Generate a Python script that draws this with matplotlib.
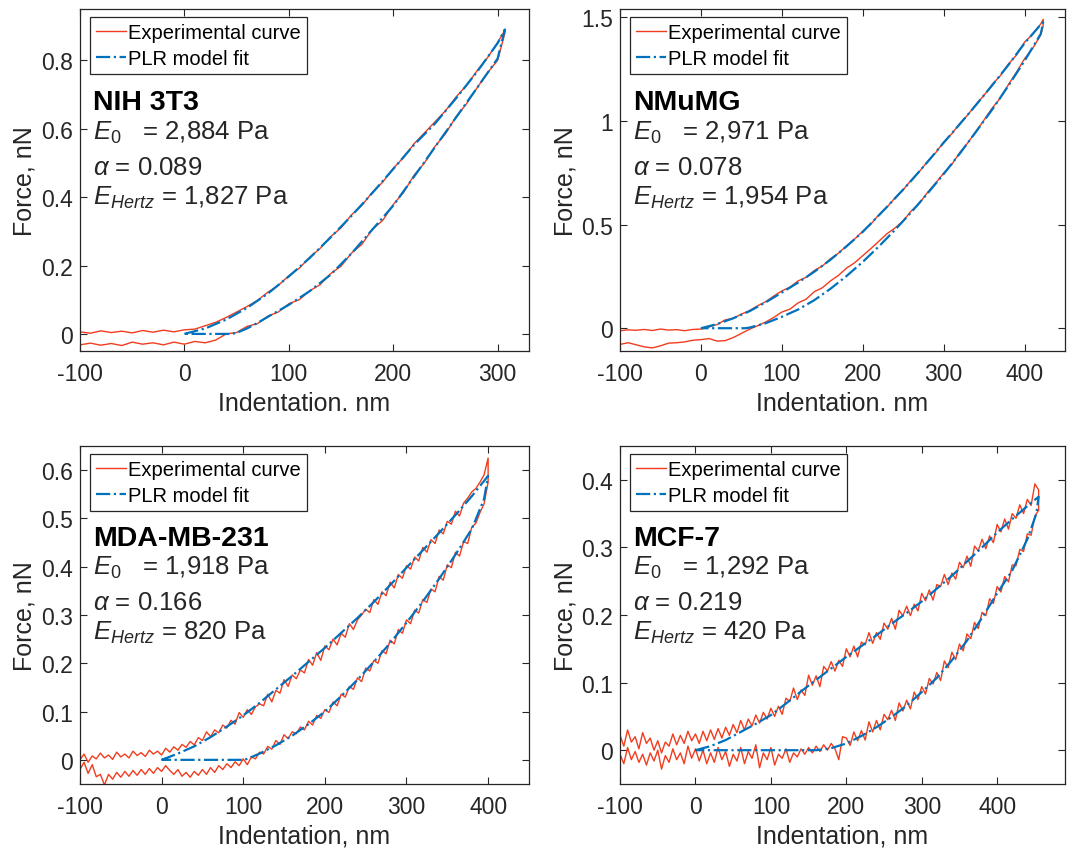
import numpy as np
import matplotlib.pyplot as plt
from matplotlib.ticker import FormatStrFormatter

plt.rcParams['font.family'] = ['Liberation Sans', 'DejaVu Sans']
plt.rcParams['mathtext.fontset'] = 'custom'
plt.rcParams['mathtext.rm'] = 'Liberation Sans'
plt.rcParams['mathtext.it'] = 'Liberation Sans:italic'
plt.rcParams['mathtext.bf'] = 'Liberation Sans:bold'
plt.rcParams['axes.unicode_minus'] = False

RED = '#F23C1E'
BLUE = '#0072BD'
DARK = '#262626'

# ---------------- NIH 3T3 ----------------
nih_exp_x = np.append(np.arange(-100, 301, 10), 307)
nih_exp_up = [0.006, 0.002, 0.009, 0.004, 0.008, 0.003, 0.010, 0.005, 0.011, 0.006,
              0.012, 0.014, 0.024, 0.034, 0.048, 0.064, 0.080, 0.098, 0.122, 0.142,
              0.170, 0.192, 0.224, 0.250, 0.284, 0.310, 0.348, 0.376, 0.414, 0.444,
              0.484, 0.516, 0.556, 0.588, 0.620, 0.652, 0.692, 0.726, 0.768, 0.806,
              0.852, 0.888]
nih_exp_dn = [-0.032, -0.027, -0.033, -0.028, -0.034, -0.024, -0.030, -0.026, -0.032, -0.024,
              -0.030, -0.022, -0.026, -0.018, 0.000, 0.004, 0.022, 0.030, 0.052, 0.064,
              0.088, 0.100, 0.126, 0.144, 0.176, 0.198, 0.236, 0.262, 0.306, 0.332,
              0.378, 0.414, 0.464, 0.500, 0.548, 0.585, 0.634, 0.672, 0.718, 0.762,
              0.800, 0.880]
nih_fit_up_x = [0, 20, 40, 60, 80, 100, 120, 140, 160, 180, 200, 220, 240, 260, 280, 300, 307]
nih_fit_up = [0, 0.016, 0.042, 0.076, 0.118, 0.168, 0.222, 0.282, 0.345, 0.412, 0.482,
              0.553, 0.615, 0.688, 0.765, 0.850, 0.890]
nih_fit_dn_x = [0, 20, 40, 45, 50, 60, 70, 80, 100, 120, 140, 160, 180, 200, 220, 240,
                260, 280, 300, 307]
nih_fit_dn = [0, 0, 0, 0, 0.003, 0.016, 0.032, 0.050, 0.085, 0.125, 0.173, 0.235, 0.305,
              0.375, 0.460, 0.546, 0.632, 0.718, 0.805, 0.890]

# ---------------- NMuMG ----------------
nmu_exp_x = np.append(np.arange(-100, 421, 10), 423)
nmu_exp_up = [-0.012, -0.008, -0.010, -0.006, -0.011, -0.004, -0.009, -0.007, -0.012, -0.006,
              -0.004, 0.006, 0.018, 0.040, 0.048, 0.068, 0.085, 0.108, 0.128, 0.155,
              0.180, 0.198, 0.228, 0.246, 0.278, 0.300, 0.335, 0.362, 0.398, 0.430,
              0.468, 0.502, 0.548, 0.584, 0.630, 0.668, 0.715, 0.756, 0.804, 0.846,
              0.898, 0.938, 0.988, 1.030, 1.080, 1.124, 1.176, 1.218, 1.274, 1.318,
              1.380, 1.418, 1.468,
              1.490]
nmu_exp_dn = [-0.078, -0.070, -0.080, -0.090, -0.095, -0.085, -0.072, -0.070, -0.066, -0.058,
              -0.055, -0.050, -0.062, -0.060, -0.045, -0.025, -0.005, 0.012, 0.030, 0.052,
              0.078, 0.092, 0.122, 0.140, 0.176, 0.195, 0.228, 0.255, 0.290, 0.316,
              0.350, 0.384, 0.420, 0.456, 0.484, 0.518, 0.566, 0.602, 0.655, 0.700,
              0.748, 0.790, 0.848, 0.895, 0.950, 1.005, 1.062, 1.110, 1.175, 1.235,
              1.300, 1.350, 1.415,
              1.460]
nmu_fit_up_x = [0, 20, 40, 60, 80, 100, 120, 140, 160, 180, 200, 220, 240, 260, 280, 300,
                320, 340, 360, 380, 400, 420, 423]
nmu_fit_up = [0, 0.020, 0.048, 0.082, 0.125, 0.172, 0.220, 0.272, 0.330, 0.395, 0.465,
              0.545, 0.627, 0.712, 0.802, 0.895, 0.985, 1.077, 1.172, 1.270, 1.375,
              1.465, 1.475]
nmu_fit_dn_x = [0, 20, 40, 55, 60, 80, 100, 120, 140, 160, 180, 200, 220, 240, 260, 280,
                300, 320, 340, 360, 380, 400, 420, 423]
nmu_fit_dn = [0, 0, 0, 0, 0.003, 0.024, 0.055, 0.090, 0.135, 0.190, 0.252, 0.320, 0.395,
              0.475, 0.560, 0.650, 0.744, 0.843, 0.948, 1.055, 1.170, 1.290, 1.420, 1.475]

# ---------------- MDA-MB-231 ----------------
mda_exp_x = np.arange(-100, 401, 5)
mda_exp_up = [0.000, 0.012, -0.005, 0.008, 0.002, 0.014, 0.004, 0.010, 0.001, 0.016,
              0.006, 0.012, 0.004, 0.018, 0.009, 0.015, 0.007, 0.020, 0.012, 0.018,
              0.010, 0.024, 0.016, 0.027, 0.020, 0.032, 0.026, 0.038, 0.031, 0.046,
              0.040, 0.058, 0.048, 0.062, 0.056, 0.072, 0.066, 0.082, 0.074, 0.098,
              0.088, 0.104, 0.094, 0.110, 0.116, 0.112, 0.136, 0.120, 0.144, 0.138,
              0.166, 0.152, 0.176, 0.168, 0.186, 0.180, 0.208, 0.196, 0.222, 0.206,
              0.236, 0.228, 0.250, 0.238, 0.262, 0.254, 0.282, 0.270, 0.290, 0.300,
              0.312, 0.305, 0.332, 0.322, 0.348, 0.340, 0.368, 0.356, 0.384, 0.376,
              0.402, 0.395, 0.420, 0.412, 0.440, 0.430, 0.456, 0.448, 0.476, 0.468,
              0.494, 0.488, 0.515, 0.505, 0.532, 0.542, 0.555, 0.562, 0.575, 0.590,
              0.625]
mda_exp_dn = [-0.020, -0.005, -0.028, -0.010, -0.035, -0.030, -0.052, -0.030, -0.040, -0.026,
              -0.036, -0.024, -0.034, -0.022, -0.032, -0.020, -0.030, -0.018, -0.028, -0.016,
              -0.024, -0.012, -0.022, -0.030, -0.020, -0.034, -0.026, -0.036, -0.024, -0.032,
              -0.020, -0.030, -0.016, -0.026, -0.012, -0.020, -0.008, -0.016, -0.004, -0.012,
              0.002, -0.010, 0.006, 0.002, 0.016, 0.012, 0.028, 0.022, 0.040, 0.032,
              0.052, 0.044, 0.058, 0.054, 0.068, 0.062, 0.080, 0.072, 0.092, 0.086,
              0.104, 0.098, 0.120, 0.112, 0.136, 0.130, 0.152, 0.146, 0.170, 0.162,
              0.190, 0.184, 0.206, 0.200, 0.226, 0.220, 0.248, 0.240, 0.270, 0.262,
              0.290, 0.282, 0.310, 0.304, 0.332, 0.326, 0.354, 0.348, 0.380, 0.372,
              0.404, 0.398, 0.430, 0.422, 0.452, 0.448, 0.482, 0.490, 0.512, 0.530,
              0.575]
mda_fit_up_x = [0, 20, 40, 60, 80, 100, 120, 140, 160, 180, 200, 220, 240, 260, 280, 300,
                320, 340, 360, 380, 400]
mda_fit_up = [0, 0.013, 0.028, 0.047, 0.069, 0.092, 0.118, 0.146, 0.174, 0.203, 0.232,
              0.263, 0.294, 0.327, 0.362, 0.398, 0.434, 0.470, 0.507, 0.546, 0.588]
mda_fit_dn_x = [0, 20, 40, 60, 80, 100, 105, 120, 140, 160, 180, 200, 220, 240, 260, 280,
                300, 320, 340, 360, 380, 395, 400]
mda_fit_dn = [0, 0, 0, 0, 0, 0, 0.002, 0.013, 0.030, 0.050, 0.074, 0.100, 0.132, 0.166,
              0.203, 0.242, 0.284, 0.328, 0.375, 0.425, 0.478, 0.540, 0.588]

# ---------------- MCF-7 ----------------
mcf_exp_x = np.arange(-100, 456, 5)
mcf_exp_up = [0.022, 0.006, 0.030, 0.012, 0.020, 0.002, 0.026, 0.010, 0.018, 0.000,
              0.014, -0.004, 0.012, 0.006, 0.024, 0.008, 0.022, 0.010, 0.028, 0.014,
              0.024, 0.010, 0.028, 0.014, 0.030, 0.016, 0.032, 0.018, 0.034, 0.022,
              0.038, 0.026, 0.044, 0.030, 0.046, 0.036, 0.052, 0.040, 0.056, 0.046,
              0.062, 0.050, 0.065, 0.053, 0.077, 0.072, 0.092, 0.075, 0.089, 0.081,
              0.111, 0.096, 0.110, 0.094, 0.124, 0.117, 0.131, 0.117, 0.133, 0.124,
              0.150, 0.138, 0.154, 0.138, 0.160, 0.156, 0.174, 0.158, 0.174, 0.164,
              0.188, 0.179, 0.195, 0.179, 0.207, 0.199, 0.213, 0.199, 0.216, 0.206,
              0.232, 0.221, 0.237, 0.222, 0.245, 0.242, 0.260, 0.245, 0.262, 0.253,
              0.278, 0.270, 0.287, 0.272, 0.302, 0.295, 0.312, 0.298, 0.317, 0.307,
              0.334, 0.323, 0.342, 0.327, 0.350, 0.343, 0.363, 0.350, 0.371, 0.362,
              0.394, 0.385]
mcf_exp_dn = [-0.006, -0.020, 0.004, -0.014, -0.002, -0.018, -0.006, -0.022, -0.004, -0.016,
              0.000, -0.028, -0.008, -0.018, 0.002, -0.014, -0.004, -0.020, 0.006, -0.012,
              0.002, -0.016, 0.000, -0.020, -0.004, -0.018, 0.004, -0.014, -0.002, -0.024,
              -0.006, -0.016, 0.004, -0.020, -0.002, -0.012, 0.008, -0.026, -0.004, -0.014,
              0.004, -0.022, -0.006, -0.012, 0.002, -0.018, -0.004, -0.010, 0.002, -0.006,
              0.004, -0.004, 0.006, -0.002, 0.008, 0.000, 0.010, 0.002, -0.014, 0.020,
              0.018, 0.007, 0.027, 0.014, 0.029, 0.015, 0.042, 0.027, 0.044, 0.030,
              0.053, 0.045, 0.059, 0.044, 0.070, 0.058, 0.074, 0.061, 0.086, 0.075,
              0.094, 0.083, 0.106, 0.098, 0.115, 0.103, 0.132, 0.122, 0.145, 0.134,
              0.157, 0.147, 0.172, 0.165, 0.189, 0.180, 0.204, 0.199, 0.224, 0.217,
              0.242, 0.234, 0.257, 0.249, 0.274, 0.273, 0.297, 0.294, 0.320, 0.318,
              0.346, 0.355]
mcf_fit_up_x = [0, 20, 40, 60, 80, 100, 120, 140, 160, 180, 200, 220, 240, 260, 280, 300,
                320, 340, 360, 380, 400, 420, 440, 455]
mcf_fit_up = [0, 0.006, 0.015, 0.027, 0.039, 0.052, 0.069, 0.087, 0.104, 0.121, 0.138,
              0.154, 0.170, 0.187, 0.203, 0.220, 0.239, 0.258, 0.279, 0.300, 0.322,
              0.342, 0.361, 0.375]
mcf_fit_dn_x = [0, 40, 80, 120, 160, 180, 200, 220, 240, 260, 280, 300, 320, 340, 360, 380,
                400, 420, 440, 452, 455]
mcf_fit_dn = [0, 0, 0, 0, 0, 0.003, 0.010, 0.021, 0.034, 0.049, 0.066, 0.086, 0.107, 0.133,
              0.162, 0.196, 0.232, 0.266, 0.312, 0.350, 0.375]

panels = [
    dict(name='NIH 3T3', e0='2,884', alpha='0.089', eh='1,827',
         ex=nih_exp_x, eup=nih_exp_up, edn=nih_exp_dn,
         fux=nih_fit_up_x, fu=nih_fit_up, fdx=nih_fit_dn_x, fd=nih_fit_dn,
         xlim=(-100, 330), ylim=(-0.05, 0.95), xticks=[-100, 0, 100, 200, 300],
         yticks=[0, 0.2, 0.4, 0.6, 0.8], xlabel='Indentation. nm'),
    dict(name='NMuMG', e0='2,971', alpha='0.078', eh='1,954',
         ex=nmu_exp_x, eup=nmu_exp_up, edn=nmu_exp_dn,
         fux=nmu_fit_up_x, fu=nmu_fit_up, fdx=nmu_fit_dn_x, fd=nmu_fit_dn,
         xlim=(-100, 450), ylim=(-0.11, 1.54), xticks=[-100, 0, 100, 200, 300, 400],
         yticks=[0, 0.5, 1, 1.5], xlabel='Indentation. nm'),
    dict(name='MDA-MB-231', e0='1,918', alpha='0.166', eh='820',
         ex=mda_exp_x, eup=mda_exp_up, edn=mda_exp_dn,
         fux=mda_fit_up_x, fu=mda_fit_up, fdx=mda_fit_dn_x, fd=mda_fit_dn,
         xlim=(-100, 450), ylim=(-0.05, 0.65), xticks=[-100, 0, 100, 200, 300, 400],
         yticks=[0, 0.1, 0.2, 0.3, 0.4, 0.5, 0.6], xlabel='Indentation, nm'),
    dict(name='MCF-7', e0='1,292', alpha='0.219', eh='420',
         ex=mcf_exp_x, eup=mcf_exp_up, edn=mcf_exp_dn,
         fux=mcf_fit_up_x, fu=mcf_fit_up, fdx=mcf_fit_dn_x, fd=mcf_fit_dn,
         xlim=(-100, 490), ylim=(-0.05, 0.45), xticks=[-100, 0, 100, 200, 300, 400],
         yticks=[0, 0.1, 0.2, 0.3, 0.4], xlabel='Indentation, nm'),
]

rects = [[0.0746, 0.5878, 0.4188, 0.4005],
         [0.5784, 0.5878, 0.4151, 0.4005],
         [0.0746, 0.0808, 0.4188, 0.3958],
         [0.5784, 0.0808, 0.4151, 0.3958]]

fig = plt.figure(figsize=(10.72, 8.54), dpi=100)

for p, r in zip(panels, rects):
    ax = fig.add_axes(r)
    # experimental curve: approach then retraction
    x = np.concatenate([p['ex'], p['ex'][::-1]])
    y = np.concatenate([p['eup'], p['edn'][::-1]])
    ax.plot(x, y, color=RED, lw=1.0, label='Experimental curve')
    # model fit
    fx = np.concatenate([p['fux'], p['fdx'][::-1]])
    fy = np.concatenate([p['fu'], p['fd'][::-1]])
    ax.plot(fx, fy, color=BLUE, lw=1.6, ls='-.', label='PLR model fit')

    ax.set_xlim(p['xlim'])
    ax.set_ylim(p['ylim'])
    ax.set_xticks(p['xticks'])
    ax.set_yticks(p['yticks'])
    ax.yaxis.set_major_formatter(FormatStrFormatter('%g'))
    ax.tick_params(direction='in', length=5, width=0.8, top=True, right=True,
                   labelsize=16.5, colors=DARK, labelcolor=DARK, pad=5)
    ax.tick_params(axis='x', pad=8)
    for s in ax.spines.values():
        s.set_color(DARK)
        s.set_linewidth(0.9)
    ax.set_xlabel(p['xlabel'], fontsize=18, color=DARK, labelpad=4)
    ax.set_ylabel('Force, nN', fontsize=18, color=DARK, labelpad=3)

    leg = ax.legend(loc='upper left', bbox_to_anchor=(0.022, 0.976), borderaxespad=0,
                    fontsize=14.5, fancybox=False, framealpha=1, edgecolor=DARK,
                    handlelength=1.5, handletextpad=0.1, labelspacing=0.35,
                    borderpad=0.3)
    leg.get_frame().set_linewidth(0.9)

    ax.text(0.03, 0.708, p['name'], transform=ax.transAxes, fontsize=20.5,
            fontweight='bold', color='black')
    ax.text(0.03, 0.621, r'$\mathit{E_0}$   = ' + p['e0'] + ' Pa', transform=ax.transAxes,
            fontsize=18.5, color=DARK)
    ax.text(0.03, 0.519, r'$\alpha$ = ' + p['alpha'], transform=ax.transAxes,
            fontsize=18.5, color=DARK)
    ax.text(0.03, 0.431, r'$\mathit{E_{Hertz}}$ = ' + p['eh'] + ' Pa',
            transform=ax.transAxes, fontsize=18.5, color=DARK)

fig.savefig('out.png', dpi=100)
